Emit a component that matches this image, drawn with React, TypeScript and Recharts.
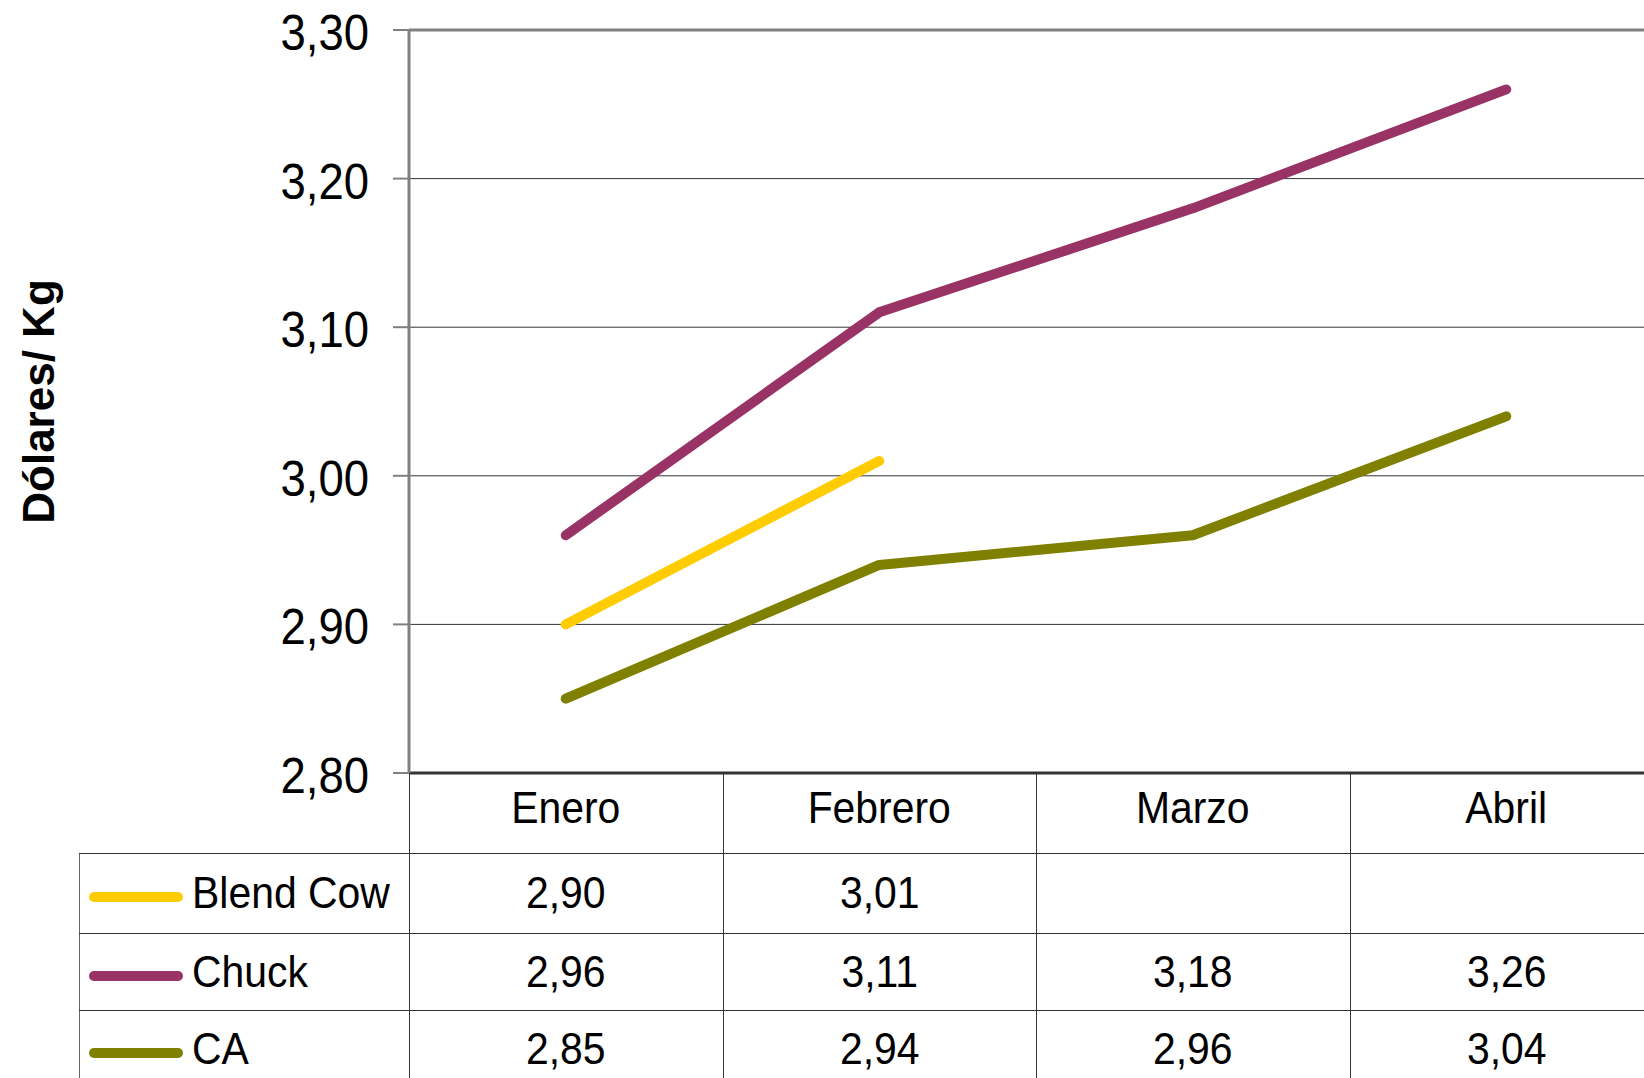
import React from 'react';
import {
    LineChart,
    Line,
    XAxis,
    YAxis,
    CartesianGrid,
    ReferenceLine
} from 'recharts';

const months = ['Enero', 'Febrero', 'Marzo', 'Abril'];
const blendCow = [2.90, 3.01, null, null];
const chuck = [2.96, 3.11, 3.18, 3.26];
const ca = [2.85, 2.94, 2.96, 3.04];
const yTicks = [2.8, 2.9, 3.0, 3.1, 3.2, 3.3];

const series = [
    { key: 'blendCow', name: 'Blend Cow', color: '#FFCC00', values: blendCow },
    { key: 'chuck', name: 'Chuck', color: '#993366', values: chuck },
    { key: 'ca', name: 'CA', color: '#808000', values: ca }
];

const data = months.map((m, i) => ({
    month: m,
    blendCow: blendCow[i],
    chuck: chuck[i],
    ca: ca[i]
}));

const fmt = (v: number | null) => (v == null ? '' : v.toFixed(2).replace('.', ','));

const FONT = '"Liberation Sans", Arial, sans-serif';

// layout
const CHART_W = 1700;
const PLOT_LEFT = 409;
const PLOT_TOP = 30;
const PLOT_BOTTOM = 773;
const MARGIN_RIGHT = 37;
const BAND = (CHART_W - MARGIN_RIGHT - PLOT_LEFT) / months.length;
const ROWS = [853, 933, 1010, 1088];
const TABLE_LEFT = 79;

const YTick = (props: any) => {
    const { x, y, payload } = props;
    return (
        <text
            x={x}
            y={y}
            dy={20}
            textAnchor="end"
            fontSize={50}
            fill="#000"
            fontFamily={FONT}
            transform={`translate(${x} 0) scale(0.91 1) translate(${-x} 0)`}
        >
            {fmt(payload.value)}
        </text>
    );
};

const XTick = (props: any) => {
    const { x, y, payload } = props;
    return (
        <text
            x={x}
            y={y}
            dy={50}
            textAnchor="middle"
            fontSize={44}
            fill="#000"
            fontFamily={FONT}
            transform={`translate(${x} 0) scale(0.93 1) translate(${-x} 0)`}
        >
            {payload.value}
        </text>
    );
};

export default function App() {
    const lineColor = '#333';

    return (
        <div
            style={{
                position: 'absolute',
                left: 0,
                top: 0,
                width: 1644,
                height: 1078,
                overflow: 'hidden',
                background: '#fff',
                fontFamily: FONT
            }}
        >
            <LineChart
                width={CHART_W}
                height={PLOT_BOTTOM + 80}
                data={data}
                margin={{ top: PLOT_TOP, right: MARGIN_RIGHT, left: 0, bottom: 0 }}
            >
                <CartesianGrid vertical={false} stroke="#333" strokeWidth={1} />
                <ReferenceLine y={3.3} stroke="#808080" strokeWidth={3} />
                <XAxis
                    dataKey="month"
                    height={80}
                    padding={{ left: BAND / 2, right: BAND / 2 }}
                    tickLine={false}
                    tickSize={0}
                    tickMargin={0}
                    axisLine={{ stroke: '#333', strokeWidth: 3 }}
                    tick={<XTick />}
                    interval={0}
                />
                <YAxis
                    type="number"
                    domain={[2.8, 3.3]}
                    ticks={yTicks}
                    interval={0}
                    width={PLOT_LEFT}
                    tickSize={16}
                    tickMargin={24}
                    tickLine={{ stroke: '#808080', strokeWidth: 2 }}
                    axisLine={{ stroke: '#808080', strokeWidth: 3 }}
                    tick={<YTick />}
                    label={{
                        value: 'Dólares/ Kg',
                        angle: -90,
                        position: 'insideLeft',
                        offset: 38,
                        style: {
                            textAnchor: 'middle',
                            fontSize: 44,
                            fontWeight: 'bold',
                            fill: '#000',
                            fontFamily: FONT
                        }
                    }}
                />
                {series.map((s) => (
                    <Line
                        key={s.key}
                        type="linear"
                        dataKey={s.key}
                        name={s.name}
                        stroke={s.color}
                        strokeWidth={10}
                        strokeLinecap="round"
                        strokeLinejoin="round"
                        dot={false}
                        activeDot={false}
                        isAnimationActive={false}
                    />
                ))}
            </LineChart>

            {/* Data table grid */}
            {months.map((_, i) => (
                <div
                    key={'v' + i}
                    style={{
                        position: 'absolute',
                        left: PLOT_LEFT + i * BAND,
                        top: PLOT_BOTTOM,
                        width: 1,
                        height: 1078 - PLOT_BOTTOM,
                        background: lineColor
                    }}
                />
            ))}
            <div
                style={{
                    position: 'absolute',
                    left: TABLE_LEFT,
                    top: ROWS[0],
                    width: 1,
                    height: 1078 - ROWS[0],
                    background: '#666'
                }}
            />
            {ROWS.slice(0, 3).map((y, i) => (
                <div
                    key={'h' + i}
                    style={{
                        position: 'absolute',
                        left: TABLE_LEFT,
                        top: y,
                        width: 1644 - TABLE_LEFT,
                        height: 1,
                        background: lineColor
                    }}
                />
            ))}

            {/* Table rows */}
            {series.map((s, r) => {
                const top = ROWS[r];
                const h = ROWS[r + 1] - ROWS[r];
                return (
                    <React.Fragment key={s.key}>
                        <div
                            style={{
                                position: 'absolute',
                                left: 89,
                                top: top + h / 2 - 1,
                                width: 94,
                                height: 10,
                                borderRadius: 5,
                                background: s.color
                            }}
                        />
                        <div
                            style={{
                                position: 'absolute',
                                left: 192,
                                top: top,
                                height: h,
                                lineHeight: h + 'px',
                                fontSize: 44,
                                color: '#000',
                                whiteSpace: 'nowrap',
                                transform: 'scaleX(0.93)',
                                transformOrigin: 'left center'
                            }}
                        >
                            {s.name}
                        </div>
                        {s.values.map((v, i) => (
                            <div
                                key={i}
                                style={{
                                    position: 'absolute',
                                    left: PLOT_LEFT + i * BAND,
                                    top: top,
                                    width: BAND,
                                    height: h,
                                    lineHeight: h + 'px',
                                    textAlign: 'center',
                                    fontSize: 44,
                                    color: '#000',
                                    transform: 'scaleX(0.93)'
                                }}
                            >
                                {fmt(v)}
                            </div>
                        ))}
                    </React.Fragment>
                );
            })}
        </div>
    );
}
